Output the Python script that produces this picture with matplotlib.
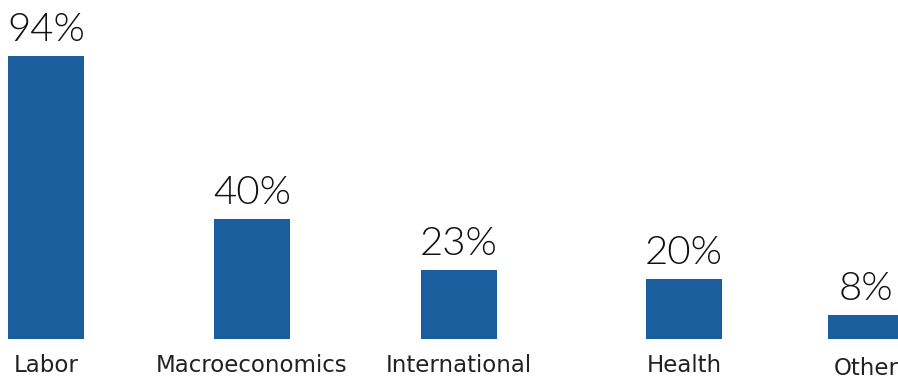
import matplotlib
matplotlib.use("Agg")
import matplotlib.pyplot as plt

categories = ["Labor", "Macroeconomics", "International", "Health", "Other"]
values = [94, 40, 23, 20, 8]
value_labels = ["94%", "40%", "23%", "20%", "8%"]

# layout (pixel-based positions)
x_pos = [46, 252, 459, 684, 866]
bar_w = 76
label_dy = [0, 0, 0, 0, 3]
color = "#1A5E9E"

W, H = 898, 379
base_px = 40          # pixels from bottom to bar base
scale = 3.01          # pixels per percent

fig = plt.figure(figsize=(W / 100, H / 100), dpi=100)
ax = fig.add_axes([0, 0, 1, 1])
ax.set_xlim(0, W)
ax.set_ylim(-base_px / scale, (H - base_px) / scale)
ax.axis("off")

ax.bar(x_pos, values, width=bar_w, color=color)

for x, v, lab in zip(x_pos, values, value_labels):
    ax.text(x, v + 2.6, lab, ha="center", va="bottom", fontsize=29,
            family="Lato", fontweight=300, color="#111111")

for x, c, dy in zip(x_pos, categories, label_dy):
    ax.text(x, -(15 + dy) / scale, c, ha="center", va="top", fontsize=16.5,
            family="DejaVu Sans", color="#222222")

fig.savefig("out.png", dpi=100)
